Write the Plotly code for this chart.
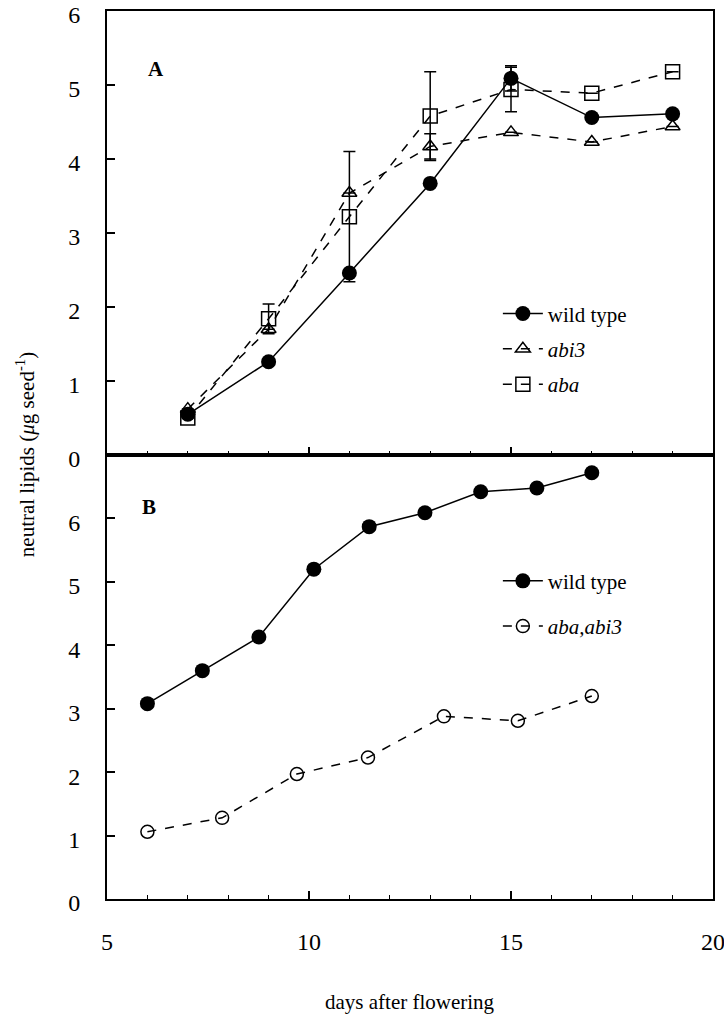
import plotly.graph_objects as go
from plotly.subplots import make_subplots

# ---- Panel A data ----
days_a = [7, 9, 11, 13, 15, 17, 19]
wild_a = [0.55, 1.26, 2.46, 3.67, 5.09, 4.56, 4.61]
wild_a_err = [0, 0, 0, 0, 0.17, 0, 0]
abi3_a = [0.62, 1.70, 3.54, 4.17, 4.36, 4.23, 4.44]
abi3_a_err = [0, 0, 0, 0.17, 0, 0, 0]
aba_a = [0.50, 1.84, 3.22, 4.58, 4.94, 4.89, 5.18]
aba_a_err = [0, 0.2, 0.88, 0.6, 0.3, 0, 0]

# ---- Panel B data ----
days_b_wt = [6.0, 7.36, 8.76, 10.12, 11.49, 12.87, 14.25, 15.64, 17.0]
wild_b = [3.08, 3.60, 4.13, 5.20, 5.87, 6.09, 6.42, 6.48, 6.72]
days_b_mut = [6.0, 7.85, 9.7, 11.46, 13.34, 15.17, 17.0]
abaabi3_b = [1.06, 1.28, 1.97, 2.23, 2.88, 2.81, 3.20]

y_ticks_a = [0, 1, 2, 3, 4, 5, 6]
y_ticks_b = [0, 1, 2, 3, 4, 5, 6]
x_ticks = [5, 10, 15, 20]

FONT = "Liberation Serif"
BLACK = "black"

fig = make_subplots(rows=2, cols=1, shared_xaxes=True, vertical_spacing=0)

def err(arr):
    return dict(type="data", array=arr, visible=True, color=BLACK, thickness=1.5, width=6)

fig.add_trace(go.Scatter(x=days_a, y=wild_a, mode="lines+markers", name="wild type",
                         line=dict(color=BLACK, width=1.5),
                         marker=dict(symbol="circle", size=15, color=BLACK),
                         error_y=err(wild_a_err), legend="legend", legendgroup="a1"), row=1, col=1)
fig.add_trace(go.Scatter(x=days_a, y=abi3_a, mode="lines+markers", name="<i>abi3</i>",
                         line=dict(color=BLACK, width=1.5, dash="dash"),
                         marker=dict(symbol="triangle-up-open", size=13, color=BLACK, line=dict(width=1.5)),
                         error_y=err(abi3_a_err), legend="legend", legendgroup="a2"), row=1, col=1)
fig.add_trace(go.Scatter(x=days_a, y=aba_a, mode="lines+markers", name="<i>aba</i>",
                         line=dict(color=BLACK, width=1.5, dash="dash"),
                         marker=dict(symbol="square-open", size=14, color=BLACK, line=dict(width=1.5)),
                         error_y=err(aba_a_err), legend="legend", legendgroup="a3"), row=1, col=1)

fig.add_trace(go.Scatter(x=days_b_wt, y=wild_b, mode="lines+markers", name="wild type",
                         line=dict(color=BLACK, width=1.5),
                         marker=dict(symbol="circle", size=15, color=BLACK),
                         legend="legend2", legendgroup="b1"), row=2, col=1)
fig.add_trace(go.Scatter(x=days_b_mut, y=abaabi3_b, mode="lines+markers", name="<i>aba,abi3</i>",
                         line=dict(color=BLACK, width=1.5, dash="dash"),
                         marker=dict(symbol="circle-open", size=13, color=BLACK, line=dict(width=1.5)),
                         legend="legend2", legendgroup="b2"), row=2, col=1)

axis_common = dict(showline=True, linecolor=BLACK, linewidth=1.8, mirror=True,
                   showgrid=False, zeroline=False, ticks="inside", tickcolor=BLACK,
                   tickwidth=1.5, automargin=False, ticklabeloverflow="allow",
                   tickfont=dict(family=FONT, size=24, color=BLACK))

fig.update_xaxes(range=[5, 20], tickvals=x_ticks, ticklen=8,
                 minor=dict(dtick=1, ticks="inside", ticklen=4, tickcolor=BLACK, tickwidth=1.2),
                 **axis_common)
fig.update_xaxes(ticklabelstandoff=20, row=2, col=1)
fig.update_yaxes(ticklen=8, ticklabelstandoff=20, ticklabelshift=4, **axis_common)
fig.update_yaxes(range=[0, 6], tickvals=y_ticks_a, row=1, col=1)
fig.update_yaxes(range=[0, 7], tickvals=y_ticks_b, row=2, col=1)

fig.update_layout(
    width=724, height=1019,
    margin=dict(l=107, r=11, t=11, b=120, autoexpand=False),
    plot_bgcolor="white", paper_bgcolor="white",
    font=dict(family=FONT, size=21, color=BLACK),
    showlegend=True,
    legend=dict(x=0.645, y=0.682, xanchor="left", yanchor="top", bgcolor="rgba(0,0,0,0)",
                font=dict(family=FONT, size=21, color=BLACK), tracegroupgap=5, itemwidth=40),
    legend2=dict(x=0.645, y=0.381, xanchor="left", yanchor="top", bgcolor="rgba(0,0,0,0)",
                 font=dict(family=FONT, size=21, color=BLACK), tracegroupgap=15, itemwidth=40),
    annotations=[
        dict(text="<b>A</b>", x=0.064, y=0.950, xref="paper", yref="paper", showarrow=False,
             font=dict(family=FONT, size=21, color=BLACK)),
        dict(text="<b>B</b>", x=0.055, y=0.441, xref="paper", yref="paper", showarrow=False,
             font=dict(family=FONT, size=21, color=BLACK)),
        dict(text="neutral lipids (<i>μ</i>g seed<sup>-1</sup>)", x=-0.135, y=0.5,
             xref="paper", yref="paper", textangle=-90, showarrow=False,
             xanchor="center", yanchor="middle", font=dict(family=FONT, size=21, color=BLACK)),
        dict(text="days after flowering", x=0.5, y=-0.116, xref="paper", yref="paper",
             showarrow=False, xanchor="center", yanchor="middle",
             font=dict(family=FONT, size=21, color=BLACK)),
    ],
)

fig.write_html("out.html", config={"displayModeBar": False},
               post_script="document.body.style.margin='0';")
